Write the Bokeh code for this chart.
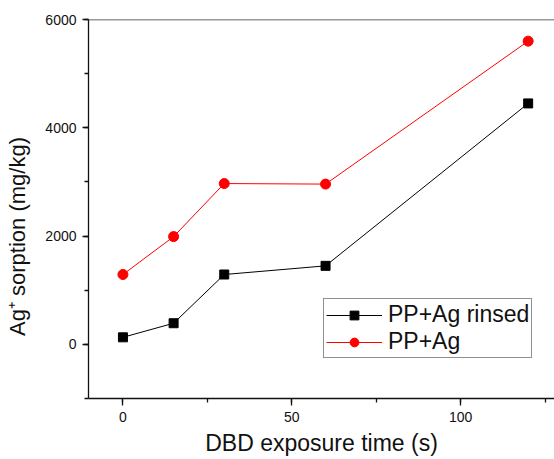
from bokeh.plotting import figure
from bokeh.models import (Range1d, LinearAxis, SingleIntervalTicker, Legend,
                          LegendItem, Span)
from bokeh.embed import file_html
from bokeh.resources import INLINE

# Data
time_s = [0, 15, 30, 60, 120]
pp_ag_rinsed = [130, 390, 1290, 1450, 4450]
pp_ag = [1290, 1990, 2970, 2960, 5600]

series_labels = ["PP+Ag rinsed", "PP+Ag"]
x_title = "DBD exposure time (s)"
y_title = "Ag\u207a sorption (mg/kg)" + "\u00a0" * 9

FONT = "Liberation Sans"

p = figure(width=554, height=459, output_backend="svg", toolbar_location=None,
           x_range=Range1d(-10.2, 127.8), y_range=Range1d(-1000, 6000),
           x_axis_type=None, y_axis_type=None,
           min_border_left=88, min_border_right=0, min_border_top=19,
           min_border_bottom=61)
p.outline_line_color = None
p.background_fill_color = "white"
p.border_fill_color = "white"

xaxis = LinearAxis(ticker=SingleIntervalTicker(interval=50, num_minor_ticks=2))
yaxis = LinearAxis(ticker=SingleIntervalTicker(interval=2000, num_minor_ticks=2))
for ax in (xaxis, yaxis):
    ax.axis_line_color = "#111111"
    ax.axis_line_width = 1.3
    ax.major_tick_line_color = "#111111"
    ax.minor_tick_line_color = "#111111"
    ax.major_tick_line_width = 1.3
    ax.minor_tick_line_width = 1.3
    ax.major_tick_in = 0
    ax.minor_tick_in = 0
    ax.major_label_text_font = FONT
    ax.major_label_text_font_size = "14px"
    ax.major_label_text_color = "#111111"
    ax.axis_label_text_font = FONT
    ax.axis_label_text_font_size = "22px"
    ax.axis_label_text_font_style = "normal"
    ax.axis_label_text_color = "#111111"

xaxis.major_tick_out = 7
xaxis.minor_tick_out = 4
xaxis.major_label_standoff = 6
xaxis.axis_label = x_title
xaxis.axis_label_text_font_size = "23px"
xaxis.axis_label_standoff = 5

yaxis.major_tick_out = 6
yaxis.minor_tick_out = 4
yaxis.major_label_standoff = 6
yaxis.axis_label = y_title
yaxis.axis_label_standoff = 12

p.add_layout(xaxis, "below")
p.add_layout(yaxis, "left")

p.add_layout(Span(location=6000, dimension="width", line_color="#333333",
                  line_width=1.3))

l1 = p.line(time_s, pp_ag_rinsed, line_color="black", line_width=1)
m1 = p.scatter(time_s, pp_ag_rinsed, marker="square", size=9,
               fill_color="black", line_color="black")
l2 = p.line(time_s, pp_ag, line_color="#ff0000", line_width=1)
m2 = p.scatter(time_s, pp_ag, marker="circle", size=10,
               fill_color="#ff0000", line_color="#ff0000")

legend = Legend(items=[LegendItem(label=series_labels[0], renderers=[l1, m1]),
                       LegendItem(label=series_labels[1], renderers=[l2, m2])],
                location=(235, 40))
legend.label_text_font = FONT
legend.label_text_font_size = "23px"
legend.label_text_color = "#111111"
legend.glyph_width = 56
legend.glyph_height = 22
legend.label_height = 22
legend.label_standoff = 6
legend.spacing = 0
legend.padding = 2
legend.margin = 0
legend.border_line_color = "#222222"
legend.border_line_width = 1
legend.background_fill_alpha = 1
p.add_layout(legend, "center")

open("out.html", "w").write(file_html(p, INLINE))
